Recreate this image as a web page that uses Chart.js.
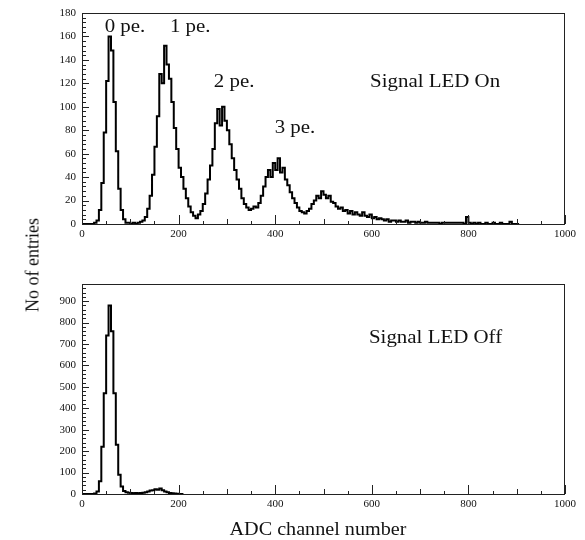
<!DOCTYPE html>
<html>
<head>
<meta charset="utf-8">
<title>ADC spectra</title>
<script src="https://cdn.jsdelivr.net/npm/chart.js@4/dist/chart.umd.min.js"></script>
<style>
  body { margin: 0; background: #fff; }
  #wrap { position: relative; width: 585px; height: 540px; font-family: "Liberation Serif", "DejaVu Serif", serif; color: #111; }
  #wrap canvas { position: absolute; left: 0; }
  #ledOn { top: 0; }
  #ledOff { top: 260px; }
  .ytitle { position: absolute; left: 33px; top: 265px; transform: translate(-50%, -50%) rotate(-90deg); font-size: 18px; white-space: nowrap; }
  .xtitle { position: absolute; left: 318px; top: 529px; transform: translate(-50%, -50%) scaleX(1.12); font-size: 18px; white-space: nowrap; }
</style>
</head>
<body>
<div id="wrap">
  <canvas id="ledOn" width="585" height="250"></canvas>
  <canvas id="ledOff" width="585" height="280"></canvas>
  <div class="ytitle">No of entries</div>
  <div class="xtitle">ADC channel number</div>
</div>
<script>
// ADC bins are 5 channels wide, counts start at channel 0
const binWidth = 5;

const ledOnCounts = [
  0, 0, 0, 0, 0, 0, 1, 3, 12, 35,
  78, 122, 160, 148, 104, 62, 30, 12, 4, 1,
  1, 0, 1, 0, 1, 2, 3, 6, 13, 24,
  42, 66, 92, 128, 120, 152, 136, 124, 104, 82,
  64, 48, 40, 30, 22, 15, 10, 7, 5, 8,
  11, 17, 26, 38, 50, 64, 86, 98, 84, 100,
  88, 80, 68, 56, 46, 38, 30, 22, 17, 14,
  12, 13, 15, 14, 18, 24, 32, 40, 46, 40,
  52, 46, 56, 44, 48, 38, 33, 27, 22, 18,
  14, 11, 10, 9, 11, 13, 17, 20, 24, 22,
  28, 25, 22, 24, 19, 18, 15, 13, 14, 11,
  12, 9, 11, 8, 10, 8, 7, 10, 7, 6,
  8, 5, 6, 4, 5, 4, 3, 4, 2, 3,
  3, 2, 3, 2, 2, 3, 1, 2, 2, 1,
  2, 1, 1, 2, 1, 1, 1, 1, 1, 0,
  1, 1, 1, 1, 1, 1, 1, 1, 1, 0,
  6, 1, 0, 1, 0, 1, 0, 0, 1, 0,
  0, 1, 0, 0, 1, 0, 0, 0, 2, 0,
  0
];

const ledOffCounts = [
  0, 0, 0, 0, 0, 0, 2, 12, 60, 220,
  470, 740, 880, 760, 470, 230, 90, 35, 14, 8,
  6, 5, 4, 5, 4, 5, 6, 8, 12, 16,
  18, 22, 20, 26, 18, 12, 8, 5, 3, 2,
  1, 0
];

const xTicks = [0, 200, 400, 600, 800, 1000];
const ledOnLabels = ['0 pe.', '1 pe.', '2 pe.', '3 pe.', 'Signal LED On'];
const ledOffLabels = ['Signal LED Off'];

// where the annotations sit, in data coordinates
const ledOnLabelPos = [[89, 168], [224, 168], [315, 121], [441, 82], [731, 121]];
const ledOffLabelPos = [[732, 728]];

function toPoints(counts) {
  const pts = counts.map((c, i) => ({ x: i * binWidth, y: c }));
  pts.push({ x: counts.length * binWidth, y: 0 });
  return pts;
}

const serif = '"Liberation Serif", "DejaVu Serif", serif';

// ROOT-style frame: closed box with ticks pointing into the pad
const padFrame = {
  id: 'padFrame',
  afterDatasetsDraw(chart, args, opts) {
    const { ctx, chartArea: a, scales: { x, y } } = chart;
    ctx.save();
    ctx.strokeStyle = '#222';
    ctx.lineWidth = 1;
    ctx.strokeRect(a.left + 0.5, a.top + 0.5, a.right - a.left - 1, a.bottom - a.top);
    ctx.beginPath();
    for (let v = 0; v <= 1000; v += 50) {
      const px = Math.round(x.getPixelForValue(v)) + 0.5;
      const len = v % 200 === 0 ? 9 : (v % 100 === 0 ? 5 : 3);
      ctx.moveTo(px, a.bottom);
      ctx.lineTo(px, a.bottom - len);
    }
    for (let v = 0; v <= y.max; v += opts.minor) {
      const py = Math.round(y.getPixelForValue(v)) + 0.5;
      const len = v % opts.major === 0 ? 7 : 4;
      ctx.moveTo(a.left, py);
      ctx.lineTo(a.left + len, py);
    }
    ctx.stroke();

    ctx.fillStyle = '#111';
    ctx.font = '19px ' + serif;
    ctx.textAlign = 'center';
    ctx.textBaseline = 'middle';
    opts.labels.forEach((txt, i) => {
      const [lx, ly] = opts.positions[i];
      ctx.save();
      ctx.translate(x.getPixelForValue(lx), y.getPixelForValue(ly));
      ctx.scale(1.1, 1);
      ctx.fillText(txt, 0, 0);
      ctx.restore();
    });
    ctx.restore();
  }
};

function makeHist(id, counts, yMax, major, minor, padTop, axisHeight, labels, positions) {
  return new Chart(document.getElementById(id), {
    type: 'line',
    data: {
      datasets: [{
        data: toPoints(counts),
        stepped: 'after',
        borderColor: '#000',
        borderWidth: 2,
        pointRadius: 0,
        fill: false
      }]
    },
    options: {
      responsive: false,
      animation: false,
      layout: { padding: { left: 0, right: 20, top: padTop, bottom: 0 } },
      plugins: {
        legend: { display: false },
        tooltip: { enabled: false },
        padFrame: { major: major, minor: minor, labels: labels, positions: positions }
      },
      scales: {
        x: {
          type: 'linear',
          min: 0,
          max: 1000,
          grid: { display: false, drawTicks: false },
          border: { display: false },
          afterBuildTicks: (s) => { s.ticks = xTicks.map(v => ({ value: v })); },
          afterFit: (s) => { s.height = axisHeight; },
          ticks: { padding: 4, maxRotation: 0, color: '#111', callback: (v) => String(v), font: { family: serif, size: 11 } }
        },
        y: {
          min: 0,
          max: yMax,
          grid: { display: false, drawTicks: false },
          border: { display: false },
          afterBuildTicks: (s) => { s.ticks = s.ticks.filter(t => t.value % major === 0); },
          afterFit: (s) => { s.width = 82; },
          ticks: { stepSize: major, padding: 6, color: '#111', callback: (v) => String(v), font: { family: serif, size: 11 } }
        }
      }
    },
    plugins: [padFrame]
  });
}

makeHist('ledOn', ledOnCounts, 180, 20, 4, 13, 26, ledOnLabels, ledOnLabelPos);
makeHist('ledOff', ledOffCounts, 980, 100, 20, 24, 46, ledOffLabels, ledOffLabelPos);
</script>
</body>
</html>
